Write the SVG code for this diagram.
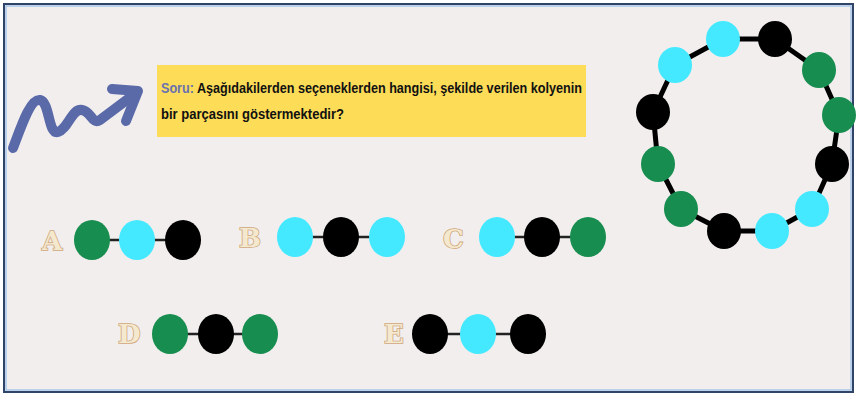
<svg xmlns="http://www.w3.org/2000/svg" width="857" height="398" viewBox="0 0 857 398">
<style>
.g{fill:#178d4f}.c{fill:#45e9ff}.k{fill:#000}
.lt{font-family:"DejaVu Serif",serif;font-weight:bold;font-size:26px;fill:#f4e8cf;stroke:#cfa67a;stroke-width:1.6;paint-order:stroke}
.q{font-family:"Liberation Sans",sans-serif;font-size:14px;fill:#111;font-weight:bold}
.ln{stroke:#222;stroke-width:2.5}
</style>
<rect x="0" y="0" width="857" height="398" fill="#ffffff"/>
<rect x="4" y="4" width="849" height="388" fill="#f2eeee" stroke="#2f4466" stroke-width="2"/>
<rect x="6" y="6" width="845" height="384" fill="none" stroke="#a9c6ea" stroke-width="1.5"/>
<g id="arrow" fill="none" stroke="#5a69a8" stroke-width="10" stroke-linecap="round" stroke-linejoin="round">
<path d="M13,148 C20,130 30,98 40,100 C50,102 48,135 58,132 C68,129 72,108 82,110 C92,112 92,125 100,120 L136,93"/>
<path d="M112,89 L138,91 L126,121"/>
</g>
<g id="question">
<rect x="157" y="65" width="429" height="72" fill="#fddc58"/>
<text class="q" x="161" y="93" textLength="421" lengthAdjust="spacingAndGlyphs"><tspan fill="#6a72b0">Soru:</tspan> Aşağıdakilerden seçeneklerden hangisi, şekilde verilen kolyenin</text>
<text class="q" x="161" y="119" textLength="183" lengthAdjust="spacingAndGlyphs">bir parçasını göstermektedir?</text>
</g>
<g id="necklace">
<polygon points="675,65 723,39 775,39 819,70 839,115 832,164 812,209 772,231 724,231 681,209 658,164 653,112" fill="none" stroke="#000" stroke-width="5" stroke-linejoin="round"/>
<ellipse class="c" cx="675" cy="65" rx="17" ry="18"/>
<ellipse class="c" cx="723" cy="39" rx="17" ry="18"/>
<ellipse class="k" cx="775" cy="39" rx="17" ry="18"/>
<ellipse class="g" cx="819" cy="70" rx="17" ry="18"/>
<ellipse class="g" cx="839" cy="115" rx="17" ry="18"/>
<ellipse class="k" cx="832" cy="164" rx="17" ry="18"/>
<ellipse class="c" cx="812" cy="209" rx="17" ry="18"/>
<ellipse class="c" cx="772" cy="231" rx="17" ry="18"/>
<ellipse class="k" cx="724" cy="231" rx="17" ry="18"/>
<ellipse class="g" cx="681" cy="209" rx="17" ry="18"/>
<ellipse class="g" cx="658" cy="164" rx="17" ry="18"/>
<ellipse class="k" cx="653" cy="112" rx="17" ry="18"/>
</g>
<g id="connectors">
<line class="ln" x1="92" y1="240" x2="183" y2="240"/>
<line class="ln" x1="295" y1="237" x2="387" y2="237"/>
<line class="ln" x1="497" y1="237" x2="588" y2="237"/>
<line class="ln" x1="170" y1="334" x2="260" y2="334"/>
<line class="ln" x1="430" y1="334" x2="528" y2="334"/>
</g>
<g id="optA">
<text class="lt" x="42" y="250">A</text>
<ellipse class="g" cx="92" cy="240" rx="18" ry="20"/>
<ellipse class="c" cx="137" cy="240" rx="18" ry="20"/>
<ellipse class="k" cx="183" cy="240" rx="18" ry="20"/>
</g>
<g id="optB">
<text class="lt" x="239" y="247">B</text>
<ellipse class="c" cx="295" cy="237" rx="18" ry="20"/>
<ellipse class="k" cx="341" cy="237" rx="18" ry="20"/>
<ellipse class="c" cx="387" cy="237" rx="18" ry="20"/>
</g>
<g id="optC">
<text class="lt" x="443" y="248">C</text>
<ellipse class="c" cx="497" cy="237" rx="18" ry="20"/>
<ellipse class="k" cx="542" cy="237" rx="18" ry="20"/>
<ellipse class="g" cx="588" cy="237" rx="18" ry="20"/>
</g>
<g id="optD">
<text class="lt" x="118" y="343">D</text>
<ellipse class="g" cx="170" cy="334" rx="18" ry="20"/>
<ellipse class="k" cx="216" cy="334" rx="18" ry="20"/>
<ellipse class="g" cx="260" cy="334" rx="18" ry="20"/>
</g>
<g id="optE">
<text class="lt" x="384" y="343">E</text>
<ellipse class="k" cx="430" cy="334" rx="18" ry="20"/>
<ellipse class="c" cx="478" cy="334" rx="18" ry="20"/>
<ellipse class="k" cx="528" cy="334" rx="18" ry="20"/>
</g>
</svg>
